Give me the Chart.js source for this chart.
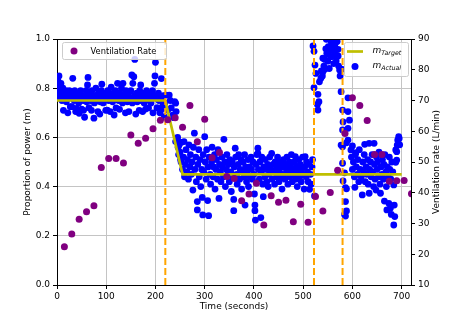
<!DOCTYPE html>
<html>
<head>
<meta charset="utf-8">
<script src="https://cdn.jsdelivr.net/npm/chart.js@4.4.0/dist/chart.umd.min.js"></script>
<style>
  body { margin: 0; background: #fff; }
  #wrap { width: 457px; height: 326px; }
</style>
</head>
<body>
<div id="wrap"><canvas id="chart" width="457" height="326"></canvas></div>
<script>
// Ventilation rate samples (right axis, L/min)
const ventTime = [15, 30, 45, 60, 75, 90, 105, 120, 135, 150, 165, 180, 195, 210, 225, 240,
    255, 270, 285, 300, 315, 330, 345, 360, 375, 390, 405, 420, 435, 450, 465, 480,
    495, 510, 525, 540, 555, 570, 585, 600, 615, 630, 645, 660, 675, 690, 705, 720];
const ventRate = [22.4, 26.6, 31.4, 33.8, 35.8, 48.2, 51.1, 51.1, 49.7, 58.8, 56.1, 57.7, 60.8, 63.6, 63.7, 64.4,
    61.3, 68.4, 56.6, 63.9, 51.4, 53.1, 45.3, 44.6, 37.4, 39.6, 43.1, 29.5, 39.0, 36.9, 37.6, 30.6,
    36.3, 30.4, 38.8, 34.1, 40.1, 47.3, 59.3, 70.9, 68.4, 63.5, 52.4, 52.4, 43.7, 43.9, 44.0, 39.7];

// Target proportion of power
const targetTime = [0, 220, 255, 700];
const targetM = [0.75, 0.75, 0.45, 0.45];

// Phase change markers (orange dashed lines)
const phaseTimes = [220, 522, 580];

// Measured proportion of power [time, m]
const actualSamples = [
    // first phase, around 0.75
    [1,0.80],[2,0.83],[3,0.78],[4,0.85],[5,0.81],[6,0.76],[7,0.79],[8,0.82],[9,0.77],[10,0.75],
    [12,0.80],[13,0.71],[15,0.78],[16,0.76],[18,0.79],[19,0.745],[21,0.77],[22,0.70],[24,0.76],[25,0.79],
    [27,0.725],[28,0.775],[30,0.725],[32,0.84],[33,0.77],[35,0.75],[36,0.79],[38,0.705],[39,0.718],[41,0.76],
    [42,0.775],[44,0.74],[45,0.698],[47,0.755],[48,0.79],[50,0.715],[51,0.77],[53,0.75],[54,0.71],[56,0.682],
    [57,0.765],[59,0.79],[60,0.745],[62,0.813],[63,0.844],[64,0.76],[65,0.721],[67,0.78],[68,0.75],[70,0.71],
    [71,0.79],[73,0.76],[75,0.678],[76,0.74],[78,0.77],[79,0.80],[81,0.75],[83,0.705],[84,0.78],[86,0.76],
    [87,0.695],[88,0.745],[90,0.79],[91,0.816],[93,0.77],[94,0.74],[96,0.755],[97,0.78],[99,0.71],[100,0.76],
    [102,0.711],[103,0.79],[105,0.75],[106,0.77],[108,0.705],[110,0.804],[111,0.76],[113,0.745],[114,0.78],[116,0.691],
    [117,0.76],[119,0.79],[120,0.72],[122,0.77],[123,0.82],[125,0.75],[127,0.714],[128,0.78],[130,0.76],[131,0.80],
    [133,0.74],[134,0.82],[136,0.77],[137,0.75],[139,0.70],[140,0.79],[142,0.76],[143,0.745],[145,0.78],[146,0.705],
    [148,0.76],[150,0.79],[152,0.854],[153,0.74],[154,0.82],[156,0.847],[157,0.77],[158,0.917],[159,0.75],[160,0.695],
    [162,0.78],[163,0.745],[165,0.76],[167,0.71],[168,0.79],[170,0.813],[171,0.75],[173,0.77],[174,0.705],[176,0.78],
    [177,0.74],[179,0.76],[180,0.715],[182,0.79],[183,0.755],[185,0.77],[186,0.72],[188,0.75],[189,0.78],[191,0.74],
    [192,0.76],[194,0.79],[195,0.70],[197,0.77],[198,0.82],[199,0.85],[200,0.905],[201,0.76],[203,0.72],[204,0.72],
    [206,0.78],[207,0.75],[209,0.70],[210,0.76],[211,0.711],[212,0.839],[213,0.75],[215,0.73],[216,0.77],[218,0.684],
    [219,0.74],
    // ramp down
    [222,0.772],[225,0.711],[228,0.772],[230,0.75],[232,0.72],[235,0.69],[237,0.68],[239,0.745],[241,0.739],[242,0.705],
    [241,0.583],[244,0.589],[245,0.60],[246,0.56],[247,0.53],[248,0.569],[249,0.58],[250,0.54],[251,0.51],[252,0.50],[253,0.58],
    // second phase, around 0.45
    [255,0.47],[257,0.52],[258,0.583],[259,0.44],[261,0.49],[262,0.55],[264,0.46],[265,0.51],[267,0.43],[268,0.57],
    [270,0.48],[271,0.53],[273,0.45],[274,0.50],[276,0.386],[277,0.56],[279,0.617],[280,0.47],[282,0.52],[283,0.42],
    [285,0.339],[285,0.305],[286,0.49],[288,0.55],[289,0.44],[291,0.51],[292,0.40],[294,0.47],[295,0.356],[296,0.285],
    [297,0.53],[298,0.46],[300,0.603],[301,0.50],[303,0.43],[304,0.55],[306,0.343],[307,0.48],[308,0.282],[309,0.52],
    [311,0.45],[312,0.41],[314,0.50],[315,0.56],[317,0.44],[318,0.48],[320,0.53],[321,0.39],[323,0.47],[324,0.51],
    [326,0.43],[327,0.55],[329,0.352],[330,0.49],[332,0.46],[333,0.42],[335,0.52],[336,0.48],[338,0.44],[339,0.592],
    [341,0.50],[342,0.40],[344,0.47],[345,0.53],[347,0.45],[348,0.49],[350,0.42],[351,0.51],[353,0.46],[354,0.38],
    [356,0.50],[357,0.44],[359,0.348],[359,0.302],[360,0.48],[362,0.556],[363,0.52],[365,0.45],[366,0.41],[368,0.49],
    [369,0.53],[371,0.43],[372,0.47],[374,0.51],[375,0.39],[377,0.46],[378,0.50],[380,0.44],[381,0.53],[382,0.325],
    [383,0.48],[385,0.42],[386,0.46],[388,0.51],[389,0.40],[391,0.48],[392,0.44],[394,0.52],[395,0.47],[397,0.43],
    [398,0.50],[400,0.45],[401,0.37],[402,0.325],[402,0.302],[403,0.264],[404,0.49],[406,0.53],[408,0.556],[408,0.535],
    [409,0.47],[411,0.43],[412,0.50],[414,0.274],[415,0.46],[416,0.52],[418,0.41],[419,0.359],[420,0.48],[422,0.44],
    [423,0.51],[425,0.47],[426,0.42],[428,0.49],[429,0.40],[431,0.45],[432,0.52],[434,0.47],[436,0.535],[437,0.43],
    [439,0.49],[440,0.46],[442,0.41],[443,0.50],[445,0.47],[446,0.44],[448,0.52],[449,0.48],[451,0.42],[452,0.46],
    [454,0.50],[455,0.44],[457,0.39],[458,0.48],[460,0.51],[461,0.45],[463,0.43],[464,0.49],[466,0.47],[467,0.52],
    [469,0.41],[470,0.46],[472,0.50],[473,0.44],[475,0.48],[476,0.53],[478,0.42],[479,0.47],[481,0.45],[482,0.50],
    [484,0.522],[485,0.43],[487,0.48],[488,0.40],[490,0.46],[491,0.51],[493,0.44],[494,0.49],[496,0.42],[497,0.47],
    [499,0.52],[500,0.45],[502,0.39],[503,0.48],[504,0.522],[506,0.44],[507,0.50],[509,0.46],[510,0.42],[512,0.49],
    [513,0.389],[515,0.45],[516,0.41],[518,0.48],[519,0.51],[523,0.362],
    // spike
    [520,0.972],[522,0.95],[524,0.894],[522,0.802],[526,0.86],[530,0.775],[529,0.734],[530,0.711],[532,0.745],[533,0.826],
    [536,0.84],[537,0.87],[539,0.85],[540,0.922],[540,0.867],[542,0.89],[544,0.917],[544,0.877],[546,0.96],[547,0.999],
    [548,0.942],[550,0.91],[551,0.969],[551,0.938],[553,0.88],[554,0.958],[556,0.995],[557,0.989],[557,0.928],[559,0.97],
    [560,0.955],[562,0.90],[563,0.935],[564,0.972],[565,0.982],[567,0.955],[567,0.911],[569,0.99],[571,0.958],[571,0.931],
    [572,0.89],[574,0.874],[575,0.85],[577,0.786],[578,0.877],[580,0.711],[580,0.63],[577,0.569],[580,0.562],[580,0.495],
    [581,0.663],[581,0.423],[584,0.456],[586,0.339],[586,0.396],[588,0.391],[588,0.301],[586,0.28],[584,0.287],
    [591,0.761],[591,0.705],[594,0.67],[591,0.637],[588,0.578],[591,0.589],[597,0.549],[600,0.565],[607,0.538],
    // third phase
    [598,0.52],[600,0.47],[602,0.50],[604,0.44],[605,0.397],[606,0.53],[608,0.48],[610,0.45],[611,0.51],[613,0.42],
    [614,0.55],[616,0.47],[618,0.44],[620,0.366],[621,0.50],[623,0.46],[624,0.53],[625,0.572],[626,0.42],[628,0.48],
    [629,0.45],[631,0.51],[632,0.41],[634,0.373],[634,0.576],[635,0.47],[637,0.50],[638,0.44],[640,0.53],[641,0.46],
    [643,0.40],[644,0.576],[645,0.49],[646,0.43],[648,0.386],[649,0.52],[650,0.47],[651,0.50],[653,0.44],[654,0.54],
    [656,0.41],[657,0.373],[658,0.48],[660,0.45],[661,0.51],[663,0.43],[664,0.49],[665,0.341],[666,0.53],[668,0.46],
    [669,0.40],[670,0.305],[671,0.48],[673,0.44],[674,0.332],[675,0.52],[676,0.47],[677,0.312],[678,0.43],[679,0.287],
    [680,0.50],[682,0.46],[684,0.407],[684,0.244],[685,0.325],[686,0.278],[688,0.499],[688,0.549],[690,0.508],[690,0.542],
    [691,0.569],[692,0.589],[694,0.603],[695,0.596],[696,0.57]
];

const FONT = '"DejaVu Sans", sans-serif';

// axis titles, legends and the top spine, drawn after the datasets
const decorations = {
    id: 'decorations',
    afterDraw(chart) {
        const ctx = chart.ctx;
        const a = chart.chartArea;
        const midY = (a.top + a.bottom) / 2;
        ctx.save();

        ctx.strokeStyle = '#000';
        ctx.lineWidth = 1;
        ctx.beginPath();
        ctx.moveTo(a.left, a.top + 0.5);
        ctx.lineTo(a.right, a.top + 0.5);
        ctx.stroke();

        ctx.fillStyle = '#000';
        ctx.font = '9px ' + FONT;
        ctx.textAlign = 'center';
        ctx.textBaseline = 'middle';
        ctx.fillText('Time (seconds)', (a.left + a.right) / 2, 307);

        ctx.save();
        ctx.translate(28, midY);
        ctx.rotate(-Math.PI / 2);
        ctx.fillText('Proportion of power (m)', 0, 0);
        ctx.restore();

        ctx.save();
        ctx.translate(437, midY);
        ctx.rotate(-Math.PI / 2);
        ctx.fillText('Ventilation rate (L/min)', 0, 0);
        ctx.restore();

        // legend boxes
        const box = (x, y, w, h) => {
            ctx.beginPath();
            ctx.roundRect(x + 0.5, y + 0.5, w, h, 2);
            ctx.fillStyle = 'rgba(255,255,255,0.8)';
            ctx.fill();
            ctx.strokeStyle = '#cccccc';
            ctx.lineWidth = 1;
            ctx.stroke();
        };

        box(62, 42, 104, 17);
        ctx.fillStyle = 'purple';
        ctx.beginPath();
        ctx.arc(74, 51, 3.5, 0, Math.PI * 2);
        ctx.fill();
        ctx.fillStyle = '#000';
        ctx.font = '8.3px ' + FONT;
        ctx.textAlign = 'left';
        ctx.fillText('Ventilation Rate', 90.5, 51.5);

        box(344, 42, 64, 34);
        ctx.strokeStyle = '#bfbf00';
        ctx.lineWidth = 2.7;
        ctx.beginPath();
        ctx.moveTo(347, 51.5);
        ctx.lineTo(363, 51.5);
        ctx.stroke();
        ctx.fillStyle = 'blue';
        ctx.beginPath();
        ctx.arc(355, 66.5, 3.5, 0, Math.PI * 2);
        ctx.fill();

        const mathLabel = (sub, x, y) => {
            ctx.fillStyle = '#000';
            ctx.font = 'italic 9px ' + FONT;
            ctx.fillText('m', x, y);
            const w = ctx.measureText('m').width;
            ctx.font = 'italic 6.3px ' + FONT;
            ctx.fillText(sub, x + w, y + 2.5);
        };
        mathLabel('Target', 372.5, 50.5);
        mathLabel('Actual', 372.5, 65.5);

        ctx.restore();
    }
};

const datasets = [
    {
        label: 'Ventilation Rate',
        data: ventTime.map((t, i) => ({ x: t, y: ventRate[i] })),
        yAxisID: 'y2',
        backgroundColor: 'purple',
        borderWidth: 0,
        pointRadius: 3.5,
        clip: 0
    },
    ...phaseTimes.map(t => ({
        data: [{ x: t, y: 0 }, { x: t, y: 1 }],
        yAxisID: 'y',
        showLine: true,
        borderColor: '#ffa500',
        borderWidth: 2,
        borderDash: [7, 3],
        pointRadius: 0,
        clip: 0
    })),
    {
        label: 'm_Target',
        data: targetTime.map((t, i) => ({ x: t, y: targetM[i] })),
        yAxisID: 'y',
        showLine: true,
        borderColor: '#bfbf00',
        borderWidth: 2.7,
        pointRadius: 0,
        clip: 0
    },
    {
        label: 'm_Actual',
        data: actualSamples.map(p => ({ x: p[0], y: p[1] })),
        yAxisID: 'y',
        backgroundColor: 'blue',
        borderWidth: 0,
        pointRadius: 3.4,
        clip: 0
    }
];

new Chart(document.getElementById('chart'), {
    type: 'scatter',
    data: { datasets: datasets },
    options: {
        responsive: false,
        animation: false,
        devicePixelRatio: 1,
        layout: { padding: { top: 39, left: 0, right: 0, bottom: 0 } },
        plugins: { legend: { display: false }, tooltip: { enabled: false } },
        scales: {
            x: {
                type: 'linear',
                min: 0,
                max: 719,
                afterFit: s => { s.height = 41; },
                ticks: {
                    stepSize: 100,
                    includeBounds: false,
                    padding: 2,
                    color: '#000',
                    font: { family: FONT, size: 9 }
                },
                grid: { color: '#c4c4c4', lineWidth: 1, tickLength: 4, tickColor: '#000' },
                border: { color: '#000', width: 1 }
            },
            y: {
                position: 'left',
                min: 0,
                max: 1,
                afterFit: s => { s.width = 57; },
                ticks: {
                    stepSize: 0.2,
                    padding: 3,
                    color: '#000',
                    font: { family: FONT, size: 9 },
                    callback: v => v.toFixed(1)
                },
                grid: { color: '#c4c4c4', lineWidth: 1, tickLength: 4, tickColor: '#000' },
                border: { color: '#000', width: 1 }
            },
            y2: {
                position: 'right',
                min: 10,
                max: 90,
                afterFit: s => { s.width = 46; },
                ticks: {
                    stepSize: 10,
                    padding: 3,
                    color: '#000',
                    font: { family: FONT, size: 9 }
                },
                grid: { drawOnChartArea: false, tickLength: 4, tickColor: '#000' },
                border: { color: '#000', width: 1 }
            }
        }
    },
    plugins: [decorations]
});
</script>
</body>
</html>
